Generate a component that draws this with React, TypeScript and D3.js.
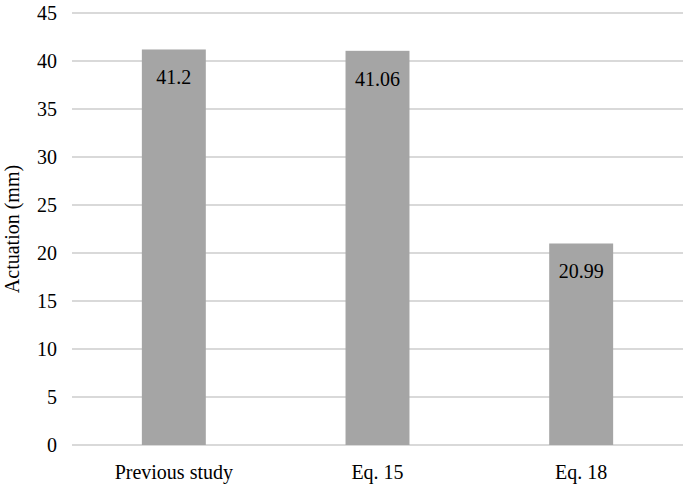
import React from "react";
import * as d3 from "d3";

const categories = ["Previous study", "Eq. 15", "Eq. 18"];
const values = [41.2, 41.06, 20.99];
const valueLabels = ["41.2", "41.06", "20.99"];
const yTicks = [0, 5, 10, 15, 20, 25, 30, 35, 40, 45];

export default function App() {
  const W = 685, H = 490;
  const left = 72, right = 683, top = 13, bottom = 445;
  const x = d3.scaleBand<string>().domain(categories).range([left, right]).paddingInner(0.686).paddingOuter(0.343);
  const y = d3.scaleLinear().domain([0, 45]).range([bottom, top]);
  const font = "'Liberation Serif', 'Times New Roman', Times, serif";
  const fs = 20;
  return (
    <svg width={W} height={H} style={{ position: "absolute", left: 0, top: 0, fontFamily: font }}>
      <rect width={W} height={H} fill="#fff" />
      {yTicks.map((t) => (
        <g key={t}>
          <line x1={left} x2={right} y1={y(t)} y2={y(t)} stroke="#d9d9d9" strokeWidth={2} />
          <text x={57} y={y(t)} dy="0.35em" textAnchor="end" style={{ fontFamily: font, fontSize: fs }} fill="#000">{t}</text>
        </g>
      ))}
      {categories.map((c, i) => (
        <g key={c}>
          <rect x={x(c)} y={y(values[i])} width={x.bandwidth()} height={y(0) - y(values[i])} fill="#a5a5a5" />
          <text x={(x(c) as number) + x.bandwidth() / 2} y={y(values[i]) + 35} textAnchor="middle" style={{ fontFamily: font, fontSize: fs }} fill="#000">{valueLabels[i]}</text>
          <text x={(x(c) as number) + x.bandwidth() / 2} y={479} textAnchor="middle" style={{ fontFamily: font, fontSize: fs }} fill="#000">{c}</text>
        </g>
      ))}
      <text transform={`translate(19, ${(top + bottom) / 2}) rotate(-90)`} textAnchor="middle" style={{ fontFamily: font, fontSize: fs }} fill="#000">Actuation (mm)</text>
    </svg>
  );
}
